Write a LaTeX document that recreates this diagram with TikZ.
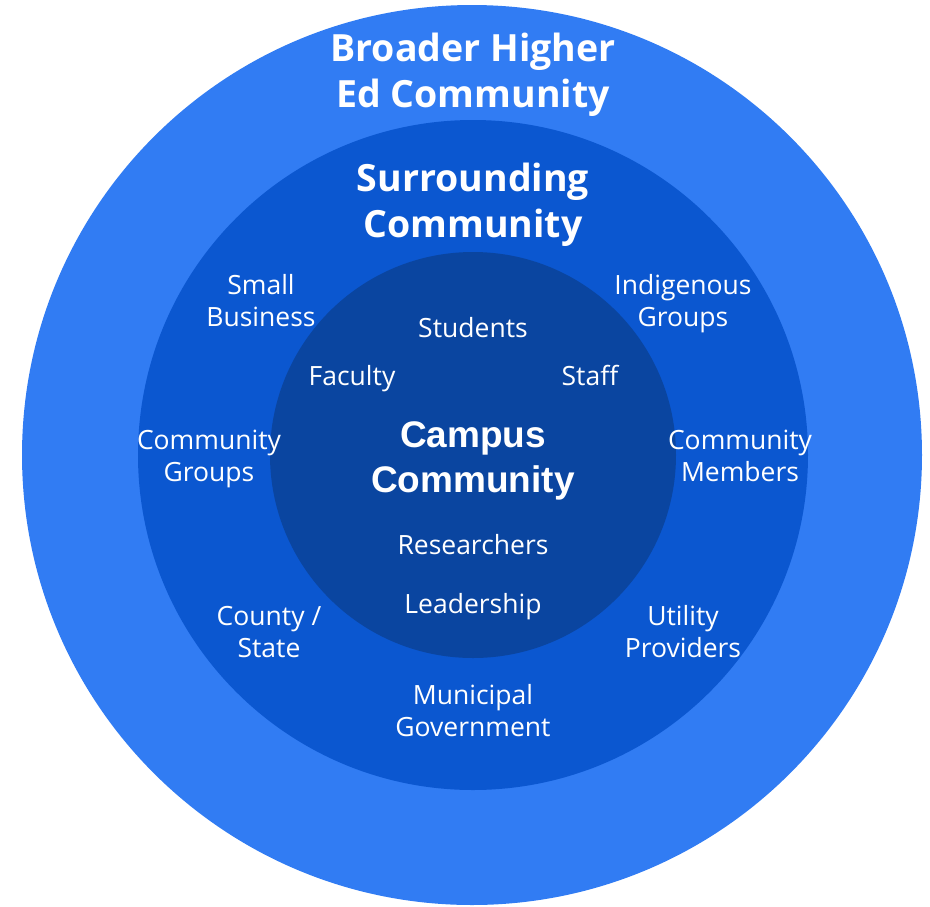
\documentclass[tikz,border=0pt]{standalone}
\usepackage{fontspec}
\setmainfont{Open Sans}
\newfontfamily\arialfont{Liberation Sans}
\definecolor{outerblue}{HTML}{317CF3}
\definecolor{midblue}{HTML}{0B57D0}
\definecolor{innerblue}{HTML}{0A45A0}
\begin{document}
\begin{tikzpicture}[x=1pt,y=-1pt,
  lbl/.style={text=white,align=center,font=\fontsize{26.5}{32}\selectfont,inner sep=0pt},
  ttl/.style={text=white,align=center,font=\fontsize{37.5}{46}\selectfont\bfseries,inner sep=0pt},
  ctl/.style={text=white,align=center,font=\arialfont\fontsize{37}{45}\selectfont\bfseries,inner sep=0pt}]
\useasboundingbox (0,0) rectangle (930,906);
\fill[outerblue] (472,455) circle (450);
\fill[midblue] (473,455) circle (335);
\fill[innerblue] (473,455) circle (203);
\node[ttl] (broader) at (473,75.5) {\strut Broader Higher\\\strut Ed Community};
\node[ttl] (surr) at (473,205.5) {\strut Surrounding\\\strut Community};
\node[ctl] (campus) at (473,460.5) {\strut Campus\\\strut Community};
\node[lbl] (small) at (261,304) {\strut Small\\\strut Business};
\node[lbl] (indig) at (683,304) {\strut Indigenous\\\strut Groups};
\node[lbl] (students) at (473,331) {\strut Students};
\node[lbl] (faculty) at (352,379) {\strut Faculty};
\node[lbl] (staff) at (590,379) {\strut Staff};
\node[lbl] (cgroups) at (209,459) {\strut Community\\\strut Groups};
\node[lbl] (cmembers) at (740,459) {\strut Community\\\strut Members};
\node[lbl] (research) at (473,548) {\strut Researchers};
\node[lbl] (leader) at (473,607) {\strut Leadership};
\node[lbl] (county) at (269,635) {\strut County /\\\strut State};
\node[lbl] (utility) at (683,635) {\strut Utility\\\strut Providers};
\node[lbl] (muni) at (473,714) {\strut Municipal\\\strut Government};
\end{tikzpicture}
\end{document}
